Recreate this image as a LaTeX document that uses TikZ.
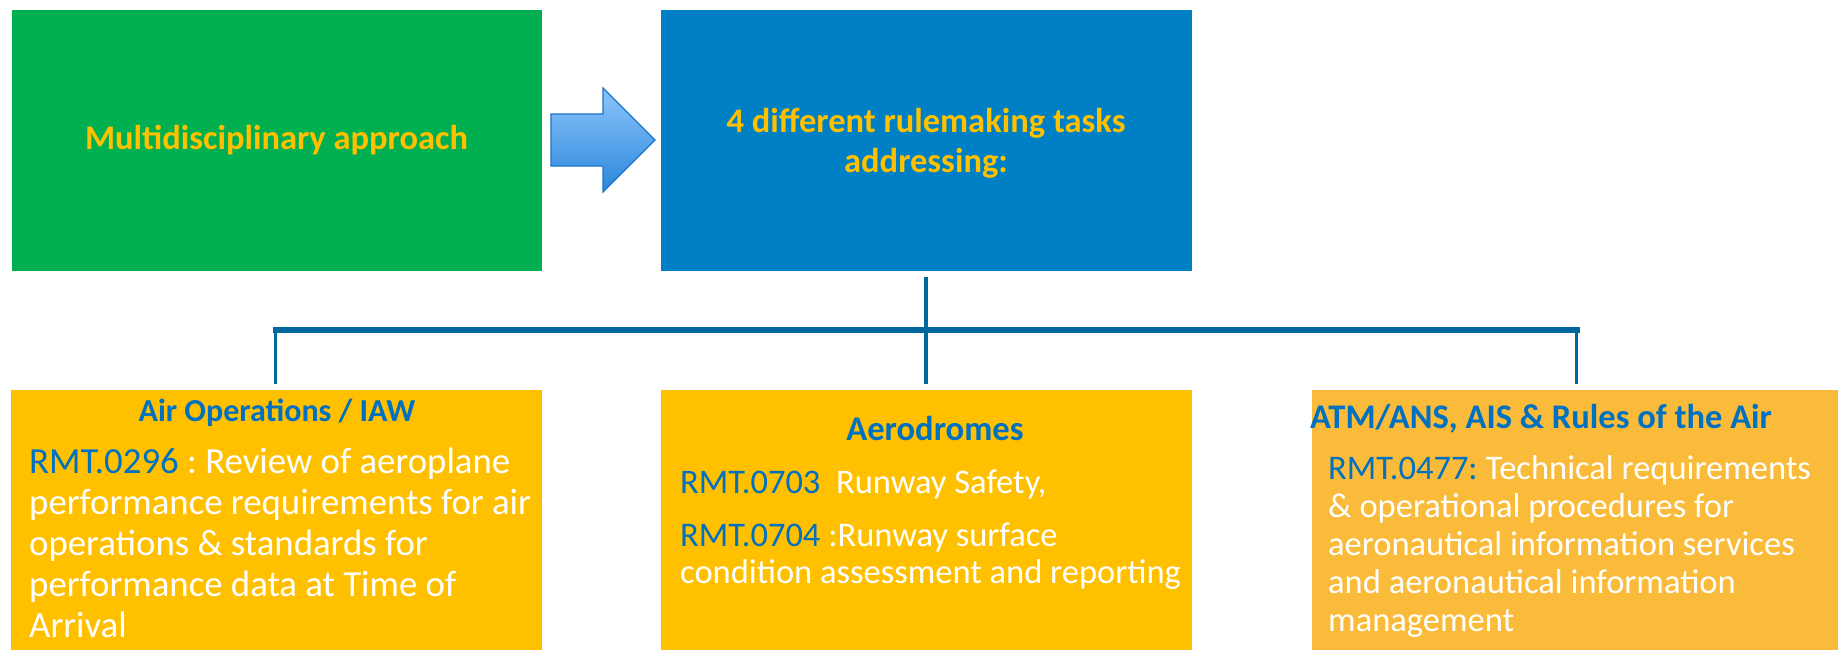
\documentclass[tikz,border=0pt]{standalone}
\usepackage{fontspec}
\setmainfont{Carlito}
\frenchspacing
\definecolor{boxgreen}{HTML}{00B050}
\definecolor{boxblue}{HTML}{0080C4}
\definecolor{gold}{HTML}{FFC000}
\definecolor{box3col}{HTML}{FABB3A}
\definecolor{rmtblue}{HTML}{0070C0}
\definecolor{linkblue}{HTML}{00669E}
\definecolor{arrowtop}{HTML}{8CC6FA}
\definecolor{arrowbot}{HTML}{2B86DC}
\definecolor{arrowedge}{HTML}{1A74C9}
\newcommand{\rmt}[1]{\textcolor{rmtblue}{#1}}
\begin{document}
\begin{tikzpicture}[x=1pt,y=-1pt,
  panel/.style={draw=white, line width=0.6pt, inner sep=0pt, outer sep=0pt},
  bigtext/.style={text=gold, font=\bfseries\fontsize{34.5}{40}\selectfont, align=center},
  headtext/.style={text=rmtblue, font=\bfseries\fontsize{32}{38}\selectfont, inner sep=0pt},
  bodytext/.style={text=white, align=left, anchor=base west, inner sep=0pt},
  conn/.style={draw=linkblue, line width=3.5pt},
  barline/.style={draw=linkblue, line width=6pt}]
\useasboundingbox (0,0) rectangle (1838,650);
\fill[white] (0,0) rectangle (1838,650);

% top panels
\node[panel, fill=boxgreen, minimum width=531pt, minimum height=262pt] (green) at (276.5,140) {};
\node[bigtext] (greentxt) at (green.center) {Multidisciplinary approach};
\node[panel, fill=boxblue, minimum width=532pt, minimum height=262pt] (blue) at (926,140) {};
\node[bigtext] (bluetxt) at (926,143) {4 different rulemaking tasks\\addressing:};

% block arrow
\path[draw=arrowedge, line width=1.2pt, top color=arrowtop, bottom color=arrowbot]
  (551,114) -- (603,114) -- (603,88) -- (655,140) -- (603,192) -- (603,166) -- (551,166) -- cycle;

% bottom panels
\node[panel, fill=gold, minimum width=532pt, minimum height=262pt] (p1) at (276,520) {};
\node[panel, fill=gold, minimum width=532pt, minimum height=262pt] (p2) at (926,520) {};
\node[panel, fill=box3col, minimum width=528pt, minimum height=262pt] (p3) at (1575,520) {};

% connectors
\coordinate (hub) at (926,330);
\coordinate (hubL) at (275.5,330);
\coordinate (hubR) at (1576.5,330);
\draw[conn, shorten <=6pt] (blue.south) -- (hub);
\draw[barline, line cap=rect] (hubL) -- (hubR);
\draw[conn, shorten >=5pt] (hubL) -- (hubL |- p1.north);
\draw[conn, shorten >=5pt] (hub) -- (p2.north);
\draw[conn, shorten >=5pt] (hubR) -- (hubR |- p3.north);

% headings
\node[headtext, anchor=base] (h1) at (277,421) {Air Operations / IAW};
\node[headtext, font=\bfseries\fontsize{34.6}{40}\selectfont, anchor=base] (h2) at (935,440) {Aerodromes};
\node[headtext, font=\bfseries\fontsize{34.5}{40}\selectfont, anchor=base west] (h3) at (1310,428) {ATM/ANS, AIS \& Rules of the Air};

% bodies (anchored at the baseline of the last line)
\node[bodytext, font=\fontsize{36.8}{41}\selectfont] (b1) at (29,637)
  {\rmt{RMT.0296} : Review of aeroplane\\performance requirements for air\\operations \& standards for\\performance data at Time of\\Arrival};
\node[bodytext, font=\fontsize{34.5}{37}\selectfont] (b2a) at (680,493)
  {\rmt{RMT.0703}\ \ Runway Safety,};
\node[bodytext, font=\fontsize{34.5}{37}\selectfont] (b2b) at (680,583)
  {\rmt{RMT.0704} :Runway surface\\condition assessment and reporting};
\node[bodytext, font=\fontsize{34.5}{38}\selectfont] (b3) at (1328,631)
  {\rmt{RMT.0477:} Technical requirements\\\& operational procedures for\\aeronautical information services\\and aeronautical information\\management};
\end{tikzpicture}
\end{document}
